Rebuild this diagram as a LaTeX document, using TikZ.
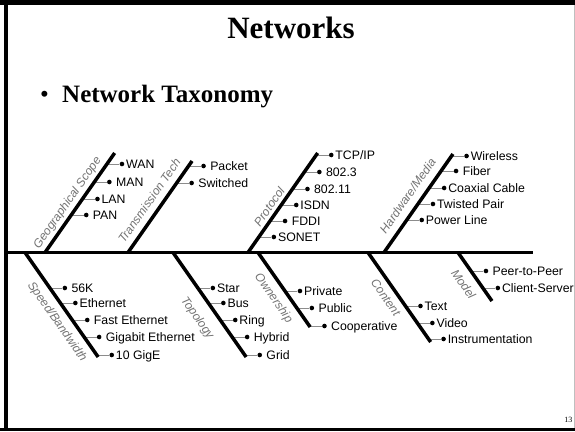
\documentclass[tikz,border=0pt]{standalone}
\usepackage{fontspec}
\setmainfont{Liberation Serif}
\setsansfont{Liberation Sans}
\usetikzlibrary{calc}
\newcommand\upleaf[5]{%
  \coordinate (#3b) at ({#1+0.7*(252.5-#2)},#2);
  \node[dotnode] (#3) at ({#1+0.7*(252.5-#2)+15},#2) {};
  \draw[tickline] (#3b) -- (#3);
  \node[leaf] (#3t) at ([xshift=#4pt,yshift=-4.4pt]#3.center) {#5};
}
\newcommand\dnleaf[5]{%
  \coordinate (#3b) at ({#1+0.7*(#2-252.5)},#2);
  \node[dotnode] (#3) at ({#1+0.7*(#2-252.5)+15},#2) {};
  \draw[tickline] (#3b) -- (#3);
  \node[leaf] (#3t) at ([xshift=#4pt,yshift=-4.4pt]#3.center) {#5};
}
\begin{document}
\begin{tikzpicture}[x=1pt,y=-1pt,
  bone/.style={line width=3.5pt},
  tickline/.style={draw=black!45, line width=0.9pt},
  dotnode/.style={circle, fill=black, inner sep=0pt, minimum size=4.6pt},
  leaf/.style={font=\sffamily\fontsize{12.3}{14}\selectfont, inner sep=0pt, anchor=base west},
  bonelbl/.style={font=\sffamily\itshape\fontsize{12}{14}\selectfont, text=black!55, inner sep=0pt, text height=8.6pt, text depth=2.5pt, sloped},
  frame/.style={draw=black},
]
\useasboundingbox (0,0) rectangle (575,431);
% frame
\draw[frame, line width=5pt] (0,2.5) -- (575,2.5);
\draw[frame, line width=3.5pt] (6,0) -- (6,431);
\draw[frame, line width=3pt] (0,429.5) -- (575,429.5);
\draw[draw=black!25, line width=1pt] (574.3,5) -- (574.3,428);
% titles
\node[font=\bfseries\fontsize{31}{36}\selectfont, inner sep=0pt, anchor=base] (title) at (291,38) {Networks};
\node[font=\fontsize{25}{30}\selectfont, inner sep=0pt, anchor=base] (bullet) at (44.5,102) {•};
\node[font=\bfseries\fontsize{25}{30}\selectfont, inner sep=0pt, anchor=base west] (sub) at (62,102) {Network Taxonomy};
\node[font=\fontsize{8}{9}\selectfont, inner sep=0pt, anchor=base east] (page) at (572.5,422) {13};
% leaves (upper)
\upleaf{45}{164}{wan}{4}{WAN}
\upleaf{45}{182}{man}{6.5}{MAN}
\upleaf{45}{199}{lan}{4}{LAN}
\upleaf{45}{215}{pan}{6.5}{PAN}
\upleaf{128}{166}{pkt}{6.5}{Packet}
\upleaf{128}{183}{sw}{6.5}{Switched}
\upleaf{248}{155}{tcp}{4}{TCP/IP}
\upleaf{248}{172}{e3}{6.5}{802.3}
\upleaf{248}{189}{e11}{6.5}{802.11}
\upleaf{248}{205}{isdn}{4}{ISDN}
\upleaf{248}{221}{fddi}{6.5}{FDDI}
\upleaf{248}{237}{sonet}{4}{SONET}
\upleaf{384}{156}{wl}{4}{Wireless}
\upleaf{384}{171}{fib}{6.5}{Fiber}
\upleaf{384}{188}{coax}{4}{Coaxial Cable}
\upleaf{384}{204}{tp}{4}{Twisted Pair}
\upleaf{384}{220}{pl}{4}{Power Line}
% leaves (lower)
\dnleaf{25}{288}{k56}{6.5}{56K}
\dnleaf{25}{303}{eth}{4}{Ethernet}
\dnleaf{25}{320}{feth}{6.5}{Fast Ethernet}
\dnleaf{25}{337}{geth}{6.5}{Gigabit Ethernet}
\dnleaf{25}{355}{tge}{4}{10 GigE}
\dnleaf{173}{288}{star}{4}{Star}
\dnleaf{173}{303}{bus}{4}{Bus}
\dnleaf{173}{320}{ring}{4}{Ring}
\dnleaf{173}{337}{hyb}{6.5}{Hybrid}
\dnleaf{173}{355}{grid}{6.5}{Grid}
\dnleaf{258}{291}{priv}{4}{Private}
\dnleaf{258}{308}{pub}{6.5}{Public}
\dnleaf{258}{326}{coop}{6.5}{Cooperative}
\dnleaf{368}{306}{txt}{4}{Text}
\dnleaf{368}{323}{vid}{4}{Video}
\dnleaf{368}{339}{instr}{4}{Instrumentation}
\dnleaf{458}{271}{p2p}{6.5}{Peer-to-Peer}
\dnleaf{458}{288}{cs}{4}{Client-Server}
% bone end points
\coordinate (geo0) at (45,252.5);   \coordinate (geo1) at ({45+0.7*99.5},153);
\coordinate (tr0) at (128,252.5);   \coordinate (tr1) at ({128+0.7*91.5},161);
\coordinate (pr0) at (248,252.5);   \coordinate (pr1) at ({248+0.7*99.5},153);
\coordinate (hw0) at (384,252.5);   \coordinate (hw1) at ({384+0.7*98.5},154);
\coordinate (sp0) at (25,252.5);    \coordinate (sp1) at ({25+0.7*104.5},357);
\coordinate (to0) at (173,252.5);   \coordinate (to1) at ({173+0.7*104.5},357);
\coordinate (ow0) at (258,252.5);   \coordinate (ow1) at ({258+0.7*74.5},327);
\coordinate (co0) at (368,252.5);   \coordinate (co1) at ({368+0.7*89.5},342);
\coordinate (mo0) at (458,252.5);   \coordinate (mo1) at ({458+0.7*48.5},301);
\coordinate (sL) at (6,252.5);      \coordinate (sR) at (533,252.5);
% bones
\draw[bone] (geo0) -- (geo1) node[bonelbl, pos=0.44, above=2.4pt] {Geographical Scope};
\draw[bone] (tr0) -- (tr1) node[bonelbl, pos=0.49, above=3.8pt] {Transmission Tech};
\draw[bone] (pr0) -- (pr1) node[bonelbl, pos=0.41, above=0.5pt] {Protocol};
\draw[bone] (hw0) -- (hw1) node[bonelbl, pos=0.50, above=4.6pt] {Hardware/Media};
\draw[bone] (sp0) -- (sp1) node[bonelbl, pos=0.59, below=6.4pt] {Speed/Bandwidth};
\draw[bone] (to0) -- (to1) node[bonelbl, pos=0.53, below=10.8pt] {Topology};
\draw[bone] (ow0) -- (ow1) node[bonelbl, pos=0.51, below=6.4pt] {Ownership};
\draw[bone] (co0) -- (co1) node[bonelbl, pos=0.43, below=5pt] {Content};
\draw[bone] (mo0) -- (mo1) node[bonelbl, pos=0.49, below=7.4pt] {Model};
\draw[bone] (sL) -- (sR);
\end{tikzpicture}
\end{document}
